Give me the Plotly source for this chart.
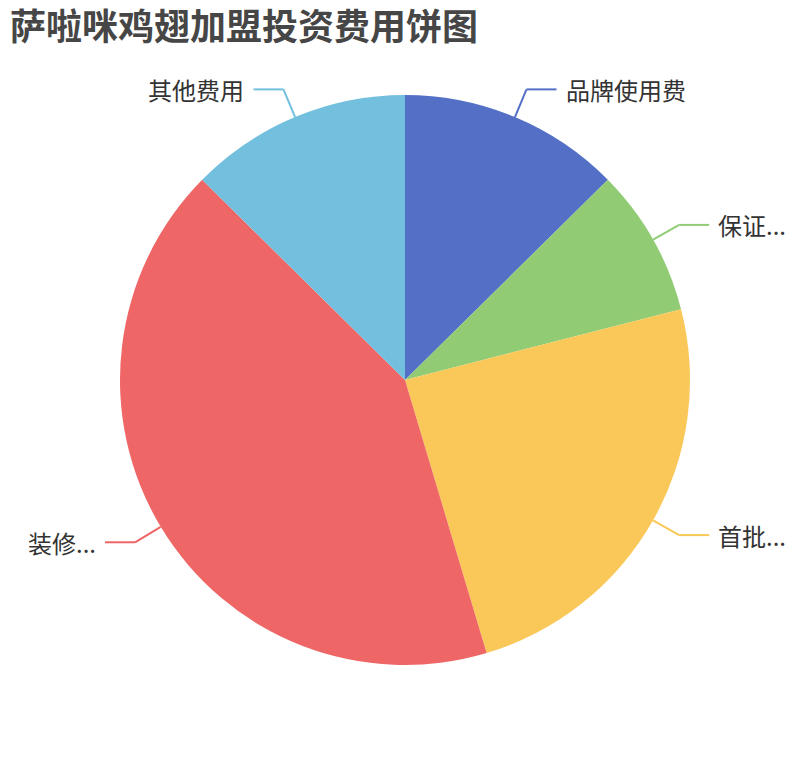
import math
import plotly.graph_objects as go

# 数据
labels = ['品牌使用费', '保证...', '首批...', '装修...', '其他费用']
values = [3, 2, 5.8, 10, 3]
colors = ['#5470c6', '#91cc75', '#fac858', '#ee6666', '#73c0de']

W, H = 810, 760
OFF = 8  # 页面 body 的默认边距
cx, cy, R = 405, 380, 285  # 饼图中心和半径 (像素)
len1, len2, gap = 30, 30, 7


def px(x, y):
    return (x - OFF) / W, 1 - (y - OFF) / H


fig = go.Figure(go.Pie(
    labels=labels, values=values, sort=False, direction='clockwise', rotation=0,
    marker=dict(colors=colors, line=dict(width=0)),
    textinfo='none', hoverinfo='label+value+percent', showlegend=False,
    domain=dict(x=[px(cx - R, 0)[0], px(cx + R, 0)[0]], y=[px(0, cy + R)[1], px(0, cy - R)[1]]),
))

# 标签和引导线
total = sum(values)
acc = 0
shapes, annos = [], []
for lab, v, c in zip(labels, values, colors):
    mid = (acc + v / 2) / total * 2 * math.pi
    acc += v
    sx, sy = cx + R * math.sin(mid), cy - R * math.cos(mid)
    ex, ey = cx + (R + len1) * math.sin(mid), cy - (R + len1) * math.cos(mid)
    side = 1 if math.sin(mid) >= 0 else -1
    hx = ex + side * len2
    for (x0, y0), (x1, y1) in [((sx, sy), (ex, ey)), ((ex, ey), (hx, ey))]:
        a, b = px(x0, y0)
        d, e = px(x1, y1)
        shapes.append(dict(type='line', xref='paper', yref='paper', x0=a, y0=b, x1=d, y1=e,
                           line=dict(color=c, width=2)))
    tx, ty = px(hx + side * gap, ey)
    annos.append(dict(text=lab, x=tx, y=ty, xref='paper', yref='paper', showarrow=False,
                      xanchor='left' if side > 0 else 'right', yanchor='middle',
                      font=dict(size=24, color='#333333', family='Noto Sans CJK SC')))

tx, ty = px(10, 27)
fig.update_layout(
    width=W, height=H, margin=dict(l=0, r=0, t=0, b=0),
    paper_bgcolor='white', plot_bgcolor='white',
    title=dict(text='萨啦咪鸡翅加盟投资费用饼图', x=tx, y=ty, xref='paper', yref='paper',
               xanchor='left', yanchor='middle',
               font=dict(size=36, color='#464646', family='Noto Sans CJK SC', weight='bold')),
    shapes=shapes, annotations=annos,
)

fig.write_html("out.html")
